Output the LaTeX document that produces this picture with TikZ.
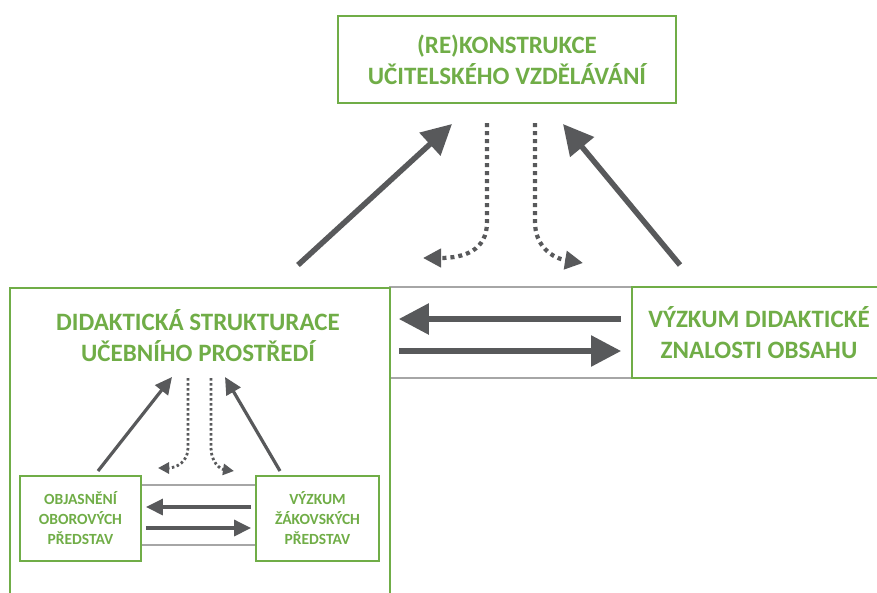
\documentclass[tikz,border=0pt]{standalone}
\usepackage{fontspec}
\setmainfont{Carlito}
\usetikzlibrary{arrows.meta}
\definecolor{leafgreen}{HTML}{70AD47}
\definecolor{arrowgray}{HTML}{58595B}
\definecolor{linegray}{HTML}{A6A6A6}
\begin{document}
\begin{tikzpicture}[x=1pt, y=-1pt,
    greenbox/.style={draw=leafgreen, line width=1.8pt, text=leafgreen, align=center},
    bigfont/.style={font=\bfseries\fontsize{25}{31}\selectfont},
    smallfont/.style={font=\bfseries\fontsize{15.5}{20}\selectfont},
    grayline/.style={draw=linegray, line width=1.8pt},
    bigarrow/.style={draw=arrowgray, line width=5.5pt, -{Triangle[length=30pt, width=30pt]}},
    smallarrow/.style={draw=arrowgray, line width=3.2pt, -{Triangle[length=17pt, width=16pt]}},
    bigdots/.style={draw=arrowgray, line width=4.2pt, dash pattern=on 4pt off 4pt, -{Triangle[length=18pt, width=18pt]}},
    smalldots/.style={draw=arrowgray, line width=2.8pt, dash pattern=on 2.5pt off 2.5pt, -{Triangle[length=11pt, width=11pt]}}
]
    \useasboundingbox (0,0) rectangle (877,592);

    % connector frames (drawn first, the green borders cover their ends)
    \coordinate (envtop) at (389,287);
    \coordinate (envbot) at (389,378);
    \draw[grayline] (envtop) -- (632,287);
    \draw[grayline] (envbot) -- (632,378);
    \draw[grayline] (141,485) -- (256,485);
    \draw[grayline] (141,545) -- (256,545);

    % boxes
    \node[greenbox, bigfont, minimum width=338pt, minimum height=87pt] (recon) at (507,59.5) {(RE)KONSTRUKCE\\UČITELSKÉHO VZDĚLÁVÁNÍ};
    \node[greenbox, minimum width=380pt, minimum height=340pt, anchor=north west] (envbox) at (9,287) {};
    \node[text=leafgreen, bigfont, align=center] (envtitle) at (198,336) {DIDAKTICKÁ STRUKTURACE\\UČEBNÍHO PROSTŘEDÍ};
    \node[greenbox, bigfont, minimum width=254pt, minimum height=91pt] (pckbox) at (759,332.5) {VÝZKUM DIDAKTICKÉ\\ZNALOSTI OBSAHU};
    \node[greenbox, smallfont, minimum width=121pt, minimum height=85pt] (clarify) at (80.5,518.5) {OBJASNĚNÍ\\OBOROVÝCH\\PŘEDSTAV};
    \node[greenbox, smallfont, minimum width=123pt, minimum height=85pt] (pupils) at (317.5,518.5) {VÝZKUM\\ŽÁKOVSKÝCH\\PŘEDSTAV};

    % upper level
    \coordinate (envout) at (298,265);
    \coordinate (envin) at (452,124);
    \coordinate (pckout) at (680,265);
    \coordinate (pckin) at (563,124);
    \draw[bigarrow] (envout) -- (envin);
    \draw[bigarrow] (pckout) -- (pckin);
    \draw[bigdots] (487,123) -- (487,222) .. controls (487,250) and (465,258) .. (423,258);
    \draw[bigdots] (535,123) -- (535,222) .. controls (535,246) and (552,258) .. (583,263);
    \draw[bigarrow, shorten <=10pt, shorten >=8pt] (pckbox.west |- 0,319) -- (envbox.east |- 0,319);
    \draw[bigarrow, shorten <=8pt, shorten >=10pt] (envbox.east |- 0,351) -- (pckbox.west |- 0,351);

    % lower level
    \coordinate (clarout) at (98,471);
    \coordinate (clarin) at (172,377);
    \coordinate (pupout) at (280,471);
    \coordinate (pupin) at (225,377);
    \draw[smallarrow] (clarout) -- (clarin);
    \draw[smallarrow] (pupout) -- (pupin);
    \draw[smalldots] (188,378) -- (188,448) .. controls (188,462) and (176,468) .. (158,468);
    \draw[smalldots] (211,378) -- (211,448) .. controls (211,462) and (220,469) .. (234,471);
    \draw[smallarrow, shorten <=4pt, shorten >=4pt] (pupils.west |- 0,507) -- (clarify.east |- 0,507);
    \draw[smallarrow, shorten <=4pt, shorten >=4pt] (clarify.east |- 0,528) -- (pupils.west |- 0,528);
\end{tikzpicture}
\end{document}
